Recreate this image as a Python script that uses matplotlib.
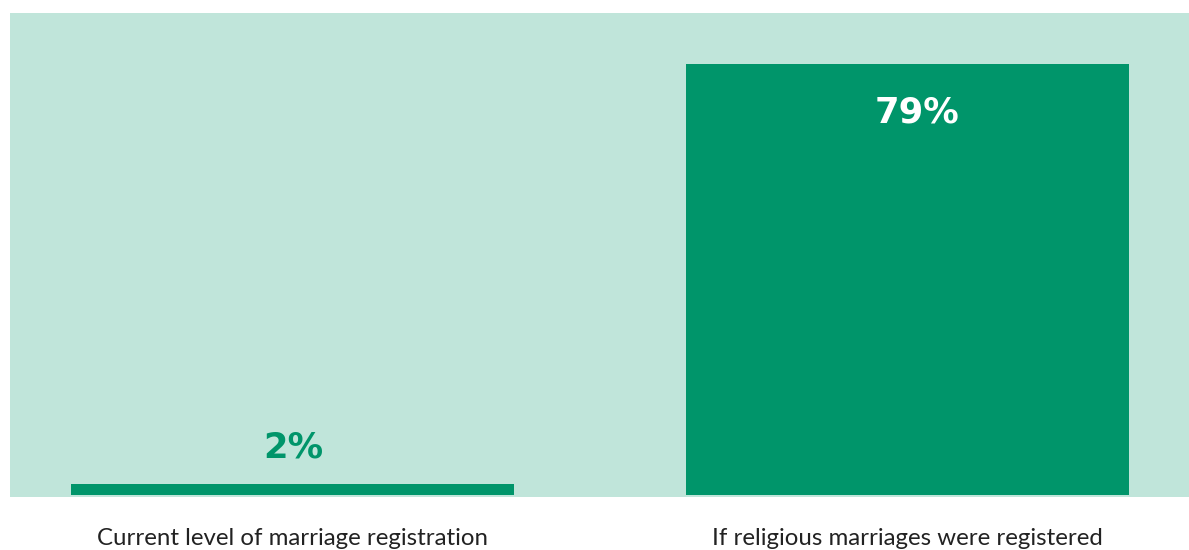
import matplotlib
matplotlib.use("Agg")
import matplotlib.pyplot as plt

categories = ["Current level of marriage registration", "If religious marriages were registered"]
values = [2, 79]
value_labels = ["2%", "79%"]

BAR = "#00956A"
BG = "#C0E5DA"

fig = plt.figure(figsize=(11.89, 5.5), dpi=100)
ax = fig.add_axes([10/1189, 1 - 497/550, 1179/1189, (497-13)/550])
ax.set_facecolor(BG)
x = list(range(len(categories)))
ax.bar(x, values, width=0.72, color=BAR, zorder=2)
ax.set_xlim(-0.459, 1.458)
ax.set_ylim(-0.35, 88.3)
for s in ax.spines.values():
    s.set_visible(False)
ax.set_yticks([])
ax.set_xticks(x)
ax.set_xticklabels(categories, fontsize=17.3, color="#222222", family=["Lato", "DejaVu Sans"])
ax.tick_params(axis="x", length=0, pad=22)

for xi, v, lab in zip(x, values, value_labels):
    if v > 20:
        ax.annotate(lab, (xi, v - 10.8), xytext=(7, 0), textcoords="offset points",
                    ha="center", va="baseline", color="white",
                    fontsize=25.5, fontweight="bold", family=["DejaVu Sans"])
    else:
        ax.annotate(lab, (xi, v + 4.8), xytext=(1, 0), textcoords="offset points",
                    ha="center", va="baseline", color=BAR,
                    fontsize=25.5, fontweight="bold", family=["DejaVu Sans"])

fig.savefig("out.png", dpi=100)
